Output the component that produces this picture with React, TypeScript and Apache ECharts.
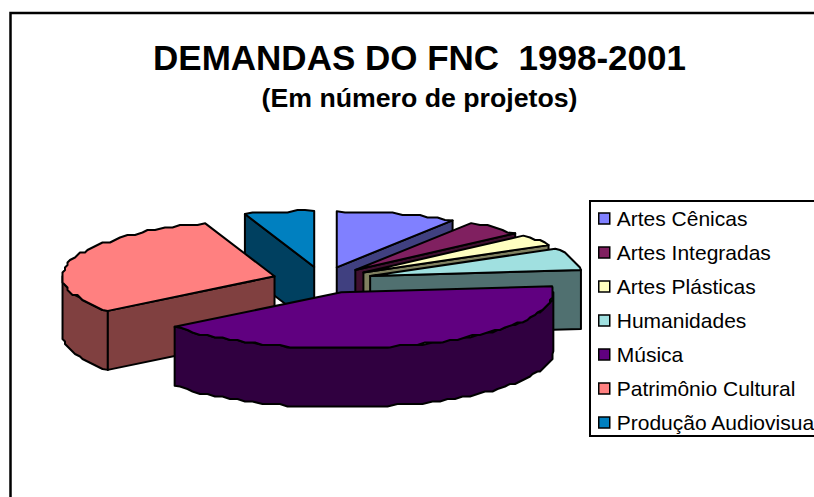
import React, { useEffect, useRef } from "react";
import * as echarts from "echarts";

const categories = ["Artes Cênicas", "Artes Integradas", "Artes Plásticas", "Humanidades", "Música", "Patrimônio Cultural", "Produção Audiovisual"];
const projectShares = [9.2, 4.4, 3.3, 6.4, 41.1, 30.3, 5.3];
const topColors = ["#8080FF", "#802060", "#FFFFC0", "#A0E0E0", "#600080", "#FF8080", "#0080C0"];
const sideColors = ["#404080", "#401030", "#808060", "#507070", "#300040", "#804040", "#004060"];

const CX = 322.5, CY = 280, RX = 212, RY = 56, DEPTH = 59, EXPLODE = 50, SNAP = 2.5, STEP = 2.5;
const FONT = "Liberation Sans";
const rad = (d: number) => (d * Math.PI) / 180;

const total = projectShares.reduce((a, b) => a + b, 0);
const starts: number[] = [];
projectShares.reduce((acc, v, i) => { starts[i] = acc; return acc + (v / total) * 360; }, 0);

function apexOf(a0: number, a1: number): [number, number] {
  const b = rad((a0 + a1) / 2);
  return [CX + EXPLODE * Math.sin(b), CY - EXPLODE * (RY / RX) * Math.cos(b)];
}
function rim(apex: number[], a0: number, a1: number): number[][] {
  const pts: number[][] = [];
  const n = Math.max(1, Math.round((a1 - a0) / STEP));
  for (let k = 0; k <= n; k++) {
    const t = rad(a0 + ((a1 - a0) * k) / n);
    let x = apex[0] + RX * Math.sin(t);
    let y = apex[1] - RY * Math.cos(t);
    if (k > 0 && k < n) { x = Math.round(x / SNAP) * SNAP; y = Math.round(y / SNAP) * SNAP; }
    pts.push([x, y]);
  }
  return pts;
}
const down = (p: number[]) => [p[0], p[1] + DEPTH];

function sliceRenderer(i: number) {
  return (_params: any, api: any) => {
    const sweep = (api.value(0) / total) * 360;
    const a0 = starts[i], a1 = a0 + sweep;
    const apex = apexOf(a0, a1);
    const side = { fill: sideColors[i], stroke: "#000", lineWidth: 2, lineJoin: "round" };
    const children: any[] = [];
    const w0 = Math.max(a0, 90), w1 = Math.min(a1, 270);
    if (w1 > w0) {
      const arc = rim(apex, w0, w1);
      children.push({ type: "polygon", shape: { points: [...arc, ...arc.map(down).reverse()] }, style: side });
    }
    const cut = (a: number) => {
      const p = [apex[0] + RX * Math.sin(rad(a)), apex[1] - RY * Math.cos(rad(a))];
      children.push({ type: "polygon", shape: { points: [apex, p, down(p), down(apex)] }, style: side });
    };
    if (Math.sin(rad(a0)) < -0.01) cut(a0);
    if (Math.sin(rad(a1)) > 0.01) cut(a1);
    children.push({
      type: "polygon",
      shape: { points: [apex, ...rim(apex, a0, a1)] },
      style: { fill: topColors[i], stroke: "#000", lineWidth: 2, lineJoin: "round" },
    });
    return { type: "group", children };
  };
}

export default function App() {
  const ref = useRef<HTMLDivElement>(null);
  useEffect(() => {
    const chart = echarts.init(ref.current!, undefined, { renderer: "svg" });
    const depthRank = categories.map((_, i) => {
      const a0 = starts[i];
      const a1 = a0 + (projectShares[i] / total) * 360;
      return apexOf(a0, a1)[1];
    });
    chart.setOption({
      animation: false,
      backgroundColor: "#fff",
      color: topColors,
      title: [
        { text: "DEMANDAS DO FNC  1998-2001", left: 414.5, top: 35, textAlign: "center",
          textStyle: { fontFamily: FONT, fontWeight: "bold", fontSize: 35, color: "#000" } },
        { text: "(Em número de projetos)", left: 414.5, top: 79.5, textAlign: "center",
          textStyle: { fontFamily: FONT, fontWeight: "bold", fontSize: 26.7, color: "#000" } },
      ],
      legend: {
        orient: "vertical",
        left: 590,
        top: 201,
        padding: [7, 10, 3, 8],
        itemWidth: 11,
        itemHeight: 11,
        itemGap: 13,
        icon: "rect",
        borderColor: "#000",
        borderWidth: 2,
        selectedMode: false,
        itemStyle: { borderColor: "#000", borderWidth: 1.5 },
        textStyle: { fontFamily: FONT, fontSize: 21, color: "#000", padding: [0, 0, 0, 2] },
        data: categories,
      },
      graphic: [
        { type: "rect", shape: { x: 10.5, y: 13, width: 1000, height: 1000 },
          style: { fill: "none", stroke: "#000", lineWidth: 2.5 }, silent: true },
      ],
      series: categories.map((name, i) => ({
        type: "custom",
        name,
        coordinateSystem: "none",
        silent: true,
        z: 2 + depthRank[i] / 1000,
        itemStyle: { color: topColors[i] },
        data: [[projectShares[i]]],
        renderItem: sliceRenderer(i),
      })),
    });
    return () => chart.dispose();
  }, []);
  return <div ref={ref} style={{ position: "absolute", left: 0, top: 0, width: 814, height: 497 }} />;
}
